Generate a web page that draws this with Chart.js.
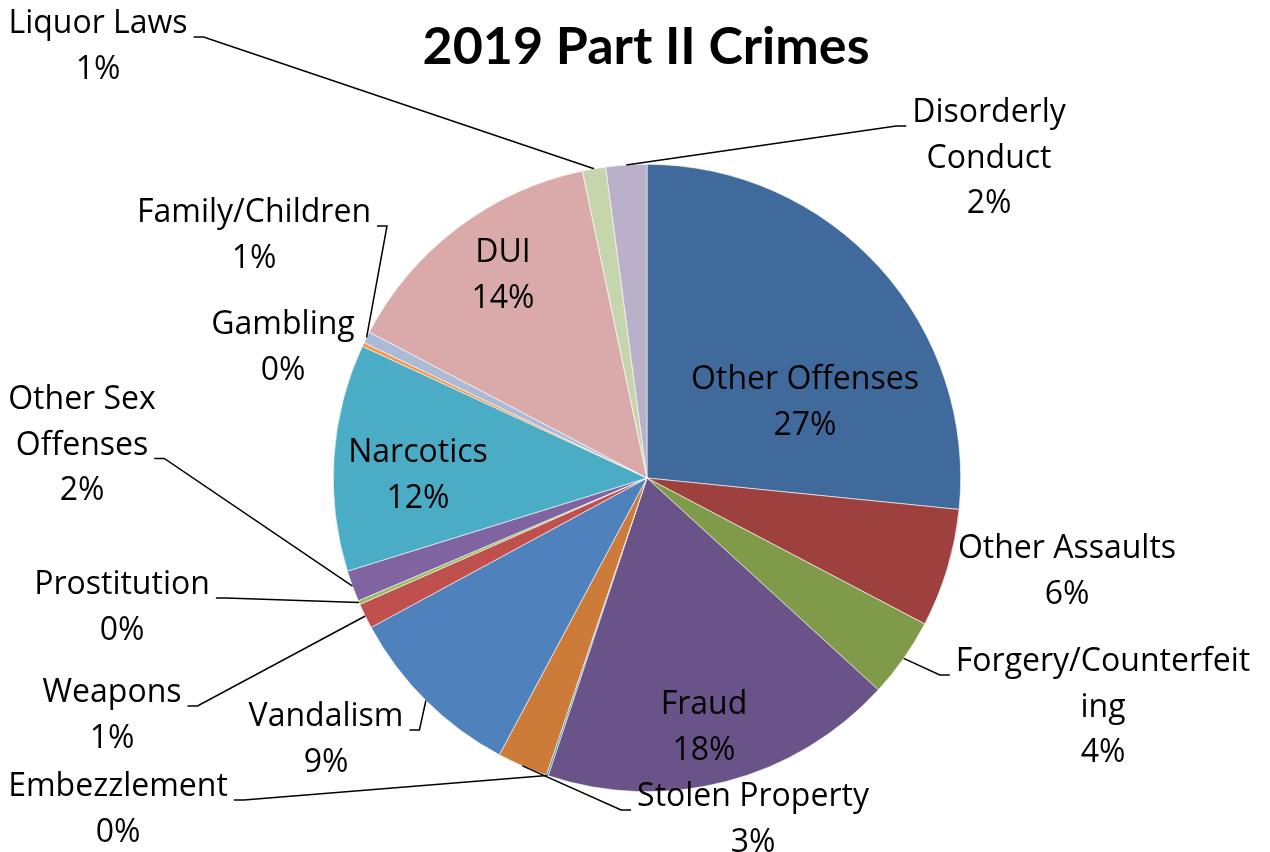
<!DOCTYPE html>
<html>
<head>
<meta charset="utf-8">
<title>2019 Part II Crimes</title>
<script src="https://cdn.jsdelivr.net/npm/chart.js@4/dist/chart.umd.min.js"></script>
<style>
  html, body { margin: 0; padding: 0; background: #ffffff; }
  #wrap { width: 1270px; height: 852px; position: relative; }
</style>
</head>
<body>
<div id="wrap"><canvas id="crimes" width="1270" height="852"></canvas></div>
<script>
// 2019 Part II offences, share of all Part II crimes (%)
const chartTitle = '2019 Part II Crimes';
const categories = [
  'Other Offenses', 'Other Assaults', 'Forgery/Counterfeiting', 'Fraud',
  'Embezzlement', 'Stolen Property', 'Vandalism', 'Weapons', 'Prostitution',
  'Other Sex Offenses', 'Narcotics', 'Gambling', 'Family/Children', 'DUI',
  'Liquor Laws', 'Disorderly Conduct'
];
const shares = [26.6, 6.1, 4.1, 18.3, 0.1, 2.6, 9.3, 1.3, 0.2, 1.6, 11.7, 0.2, 0.6, 14.0, 1.2, 2.1];
const sliceColors = [
  '#416A9C', '#9D403E', '#7F9A48', '#6A5389', '#3C8DA3', '#CC7B38',
  '#4F81BD', '#C0504D', '#9BBB59', '#8064A2', '#4BACC6', '#F79646',
  '#AABAD7', '#D9AAA9', '#C6D6AC', '#BAB0C9'
];

// Where each data label sits, relative to the pie centre (px), how wide a
// line may get before wrapping, and which side its leader line leaves from.
const labelSpots = [
  { dx: 158,  dy: -98,  wrap: 400, leader: null },
  { dx: 420,  dy: 71,   wrap: 400, leader: null },
  { dx: 456,  dy: 184,  wrap: 297, leader: 'left',  line: 0 },
  { dx: 57,   dy: 227,  wrap: 400, leader: null },
  { dx: -529, dy: 309,  wrap: 400, leader: 'right', line: 0 },
  { dx: 106,  dy: 319,  wrap: 400, leader: 'left',  line: 0 },
  { dx: -321, dy: 239,  wrap: 400, leader: 'right', line: 0 },
  { dx: -535, dy: 215,  wrap: 400, leader: 'right', line: 0 },
  { dx: -525, dy: 107,  wrap: 400, leader: 'right', line: 0 },
  { dx: -565, dy: -78,  wrap: 200, leader: 'right', line: 1 },
  { dx: -229, dy: -25,  wrap: 400, leader: null },
  { dx: -364, dy: -153, wrap: 400, leader: null },
  { dx: -393, dy: -265, wrap: 400, leader: 'right', line: 0 },
  { dx: -144, dy: -225, wrap: 400, leader: null },
  { dx: -549, dy: -454, wrap: 400, leader: 'right', line: 0 },
  { dx: 342,  dy: -365, wrap: 200, leader: 'left',  line: 0 }
];

const LABEL_FONT = '32px "Open Sans", Lato, sans-serif';
const TITLE_FONT = 'bold 52px Lato, "Open Sans", sans-serif';
const LINE_GAP = 45.5;

function wrapText(ctx, text, maxWidth) {
  const words = text.split(' ');
  const lines = [];
  let cur = '';
  words.forEach(w => {
    const test = cur ? cur + ' ' + w : w;
    if (ctx.measureText(test).width <= maxWidth || !cur) {
      cur = test;
    } else {
      lines.push(cur);
      cur = w;
    }
  });
  if (cur) lines.push(cur);
  // break any single word that is still too long, character by character
  const out = [];
  lines.forEach(l => {
    let piece = '';
    for (const ch of l) {
      if (ctx.measureText(piece + ch).width > maxWidth && piece) {
        out.push(piece);
        piece = ch;
      } else {
        piece += ch;
      }
    }
    out.push(piece);
  });
  return out;
}

const pieLabels = {
  id: 'pieLabels',
  afterDraw(chart) {
    const ctx = chart.ctx;
    const meta = chart.getDatasetMeta(0);
    const values = chart.data.datasets[0].data;
    const total = values.reduce((a, b) => a + b, 0);

    ctx.save();
    // title
    ctx.font = TITLE_FONT;
    ctx.fillStyle = '#000';
    ctx.textAlign = 'center';
    ctx.textBaseline = 'middle';
    ctx.fillText(chartTitle, 646, 47);

    ctx.font = LABEL_FONT;
    meta.data.forEach((arc, i) => {
      const spot = labelSpots[i];
      const p = arc.getProps(['x', 'y', 'startAngle', 'endAngle', 'outerRadius'], true);
      const lx = p.x + spot.dx;
      const ly = p.y + spot.dy;
      const pct = Math.round(values[i] / total * 100) + '%';
      const lines = wrapText(ctx, chart.data.labels[i], spot.wrap).concat([pct]);

      ctx.fillStyle = '#000';
      lines.forEach((t, k) => ctx.fillText(t, lx, ly + k * LINE_GAP));

      if (spot.leader) {
        const mid = (p.startAngle + p.endAngle) / 2;
        const ex = p.x + Math.cos(mid) * p.outerRadius;
        const ey = p.y + Math.sin(mid) * p.outerRadius;
        const w = ctx.measureText(lines[spot.line]).width;
        const ay = ly + spot.line * LINE_GAP + 13;
        const sign = spot.leader === 'right' ? 1 : -1;
        const x0 = lx + sign * (w / 2 + 6);
        const x1 = x0 + sign * 10;
        ctx.beginPath();
        ctx.moveTo(x0, ay);
        ctx.lineTo(x1, ay);
        ctx.lineTo(ex, ey);
        ctx.strokeStyle = '#000';
        ctx.lineWidth = 1.5;
        ctx.stroke();
      }
    });
    ctx.restore();
  }
};

new Chart(document.getElementById('crimes'), {
  type: 'pie',
  data: {
    labels: categories,
    datasets: [{
      data: shares,
      backgroundColor: sliceColors,
      borderColor: '#ffffff',
      borderWidth: 0.6,
      hoverOffset: 0
    }]
  },
  options: {
    responsive: false,
    animation: false,
    layout: { padding: { left: 333, right: 309, top: 164, bottom: 60 } },
    plugins: {
      legend: { display: false },
      tooltip: { enabled: false },
      title: { display: false }
    }
  },
  plugins: [pieLabels]
});
</script>
</body>
</html>
